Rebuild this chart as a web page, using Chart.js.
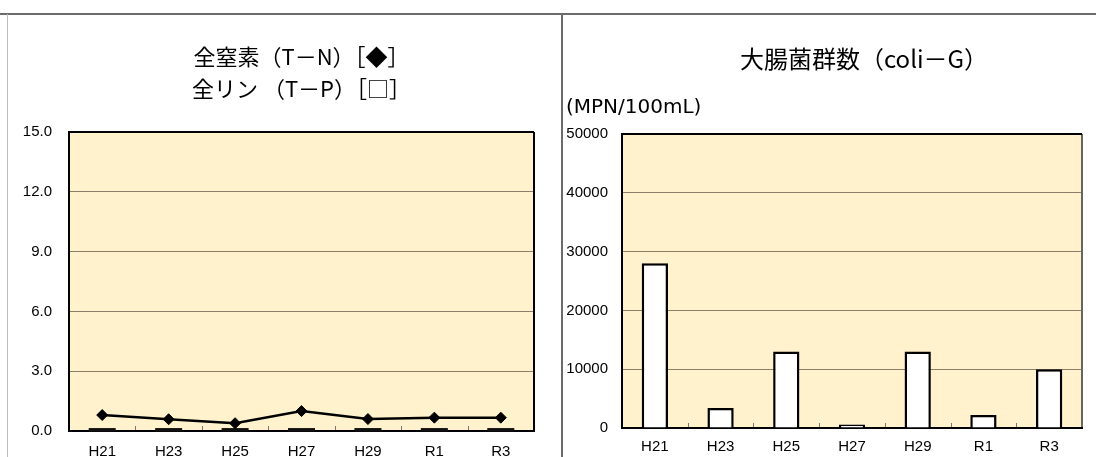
<!DOCTYPE html>
<html>
<head>
<meta charset="utf-8">
<script src="https://cdn.jsdelivr.net/npm/chart.js@4.4.1/dist/chart.umd.min.js"></script>
<style>
  html, body { margin: 0; padding: 0; background: #fff; overflow: hidden; }
  #wrap { position: relative; width: 1096px; height: 457px; }
  .rule { position: absolute; }
  #topRule { left: 0; top: 13px; width: 1096px; height: 2px; background: #6b6b6b; }
  #leftRule { left: 7px; top: 14px; width: 1px; height: 443px; background: #bdbdbd; }
  #midRule { left: 561px; top: 14px; width: 2px; height: 443px; background: #6b6b6b; }
  canvas { position: absolute; }
  #nutrients { left: 8px; top: 14px; }
  #coliform { left: 563px; top: 14px; }
</style>
</head>
<body>
<div id="wrap">
  <div class="rule" id="topRule"></div>
  <div class="rule" id="leftRule"></div>
  <div class="rule" id="midRule"></div>
  <canvas id="nutrients" width="553" height="443"></canvas>
  <canvas id="coliform" width="533" height="443"></canvas>
</div>
<script>
// ---- data ----
const years = ['H21', 'H23', 'H25', 'H27', 'H29', 'R1', 'R3'];
const totalN = [0.80, 0.59, 0.39, 1.00, 0.60, 0.67, 0.67];
const totalP = [0.06, 0.06, 0.06, 0.06, 0.06, 0.06, 0.06];
const coliG = [28000, 3400, 13000, 600, 13000, 2200, 10000];

const nTicks = [0, 3, 6, 9, 12, 15];
const coliTicks = [0, 10000, 20000, 30000, 40000, 50000];

const TICK_FONT = { family: "'Liberation Sans', Arial, sans-serif", size: 15 };
const TITLE_FAMILY = "'Noto Sans CJK JP', 'Noto Sans', sans-serif";
const PLOT_FILL = '#fff2cc';
const GRID = '#8a8069';

// plot background, frame and the small category ticks on the bottom axis
const plotFrame = {
  id: 'plotFrame',
  beforeDraw(chart) {
    const { ctx, chartArea: a } = chart;
    ctx.save();
    ctx.fillStyle = PLOT_FILL;
    ctx.fillRect(a.left, a.top, a.width, a.height);
    ctx.restore();
  },
  beforeDatasetsDraw(chart, args, opts) {
    const { ctx, chartArea: a } = chart;
    const x = chart.scales.x;
    ctx.save();
    // inner tick marks between categories
    ctx.strokeStyle = '#777';
    ctx.lineWidth = 1;
    for (let i = 1; i < years.length; i++) {
      const px = Math.round((x.getPixelForTick(i - 1) + x.getPixelForTick(i)) / 2) + 0.5;
      ctx.beginPath();
      ctx.moveTo(px, a.bottom);
      ctx.lineTo(px, a.bottom - 5);
      ctx.stroke();
    }
    ctx.lineWidth = 2;
    ctx.strokeStyle = opts.rightColor || '#000';
    ctx.beginPath();
    ctx.moveTo(a.right, a.top);
    ctx.lineTo(a.right, a.bottom);
    ctx.stroke();
    ctx.strokeStyle = '#000';
    ctx.beginPath();
    ctx.moveTo(a.right, a.top);
    ctx.lineTo(a.left, a.top);
    ctx.lineTo(a.left, a.bottom);
    ctx.lineTo(a.right + 1, a.bottom);
    ctx.stroke();
    ctx.restore();
  },
};

function yAxis(ticks, width, pad, fmt) {
  return {
    min: ticks[0],
    max: ticks[ticks.length - 1],
    afterBuildTicks: (s) => { s.ticks = ticks.map((v) => ({ value: v })); },
    afterFit: (s) => { s.width = width; },
    ticks: { color: '#000', font: TICK_FONT, padding: pad, callback: fmt },
    grid: { color: GRID, lineWidth: 1, drawTicks: false },
    border: { display: false },
  };
}

function xAxis(height, pad) {
  return {
    offset: true,
    afterFit: (s) => { s.height = height; },
    ticks: { color: '#000', font: TICK_FONT, padding: pad, maxRotation: 0 },
    grid: { display: false, drawTicks: false },
    border: { display: false },
  };
}

// ---- left: T-N / T-P ----
new Chart(document.getElementById('nutrients'), {
  type: 'line',
  data: {
    labels: years,
    datasets: [
      {
        label: '全窒素',
        data: totalN,
        borderColor: '#000',
        backgroundColor: '#000',
        borderWidth: 2.5,
        tension: 0,
        pointStyle: 'rectRot',
        pointRadius: 5.5,
        pointBorderWidth: 1,
        pointBackgroundColor: '#000',
      },
      {
        label: '全リン',
        data: totalP,
        showLine: false,
        pointStyle: 'line',
        pointRadius: 13.5,
        pointBorderWidth: 3.5,
        pointBorderColor: '#111',
        borderColor: '#111',
        clip: false,
      },
    ],
  },
  options: {
    responsive: false,
    devicePixelRatio: 1,
    animation: false,
    layout: { padding: { left: 0, right: 27, top: 0, bottom: 0 } },
    plugins: {
      legend: { display: false },
      tooltip: { enabled: false },
      title: {
        display: true,
        fullSize: false,
        text: ['全窒素（T－N）［◆］', '全リン （T－P）［□］'],
        color: '#000',
        font: { family: TITLE_FAMILY, size: 22, weight: 'normal', lineHeight: 32 / 22 },
        padding: { top: 27, bottom: 27 },
      },
    },
    scales: {
      x: xAxis(26, 12),
      y: yAxis(nTicks, 61, 17, (v) => Number(v).toFixed(1)),
    },
  },
  plugins: [plotFrame],
});

// ---- right: coliform group ----
new Chart(document.getElementById('coliform'), {
  type: 'bar',
  data: {
    labels: years,
    datasets: [{
      label: '大腸菌群数',
      data: coliG,
      backgroundColor: '#fff',
      borderColor: '#000',
      borderWidth: 2.5,
      borderSkipped: 'bottom',
      barPercentage: 0.4,
      categoryPercentage: 1,
    }],
  },
  options: {
    responsive: false,
    devicePixelRatio: 1,
    animation: false,
    layout: { padding: { left: 3, right: 14, top: 0, bottom: 0 } },
    plugins: {
      legend: { display: false },
      tooltip: { enabled: false },
      plotFrame: { rightColor: '#666' },
      title: {
        display: true,
        fullSize: false,
        text: '　大腸菌群数（coli－G）',
        color: '#000',
        font: { family: TITLE_FAMILY, size: 24, weight: 'normal', lineHeight: 1.2 },
        padding: { top: 30.6, bottom: 0 },
      },
      subtitle: {
        display: true,
        align: 'start',
        text: '(MPN/100mL)',
        color: '#000',
        font: { family: "'DejaVu Sans', sans-serif", size: 20, weight: 'normal', lineHeight: 1.2 },
        padding: { top: 22, bottom: 14.6 },
      },
    },
    scales: {
      x: xAxis(29, 10),
      y: yAxis(coliTicks, 56, 14, (v) => String(v)),
    },
  },
  plugins: [plotFrame],
});
</script>
</body>
</html>
